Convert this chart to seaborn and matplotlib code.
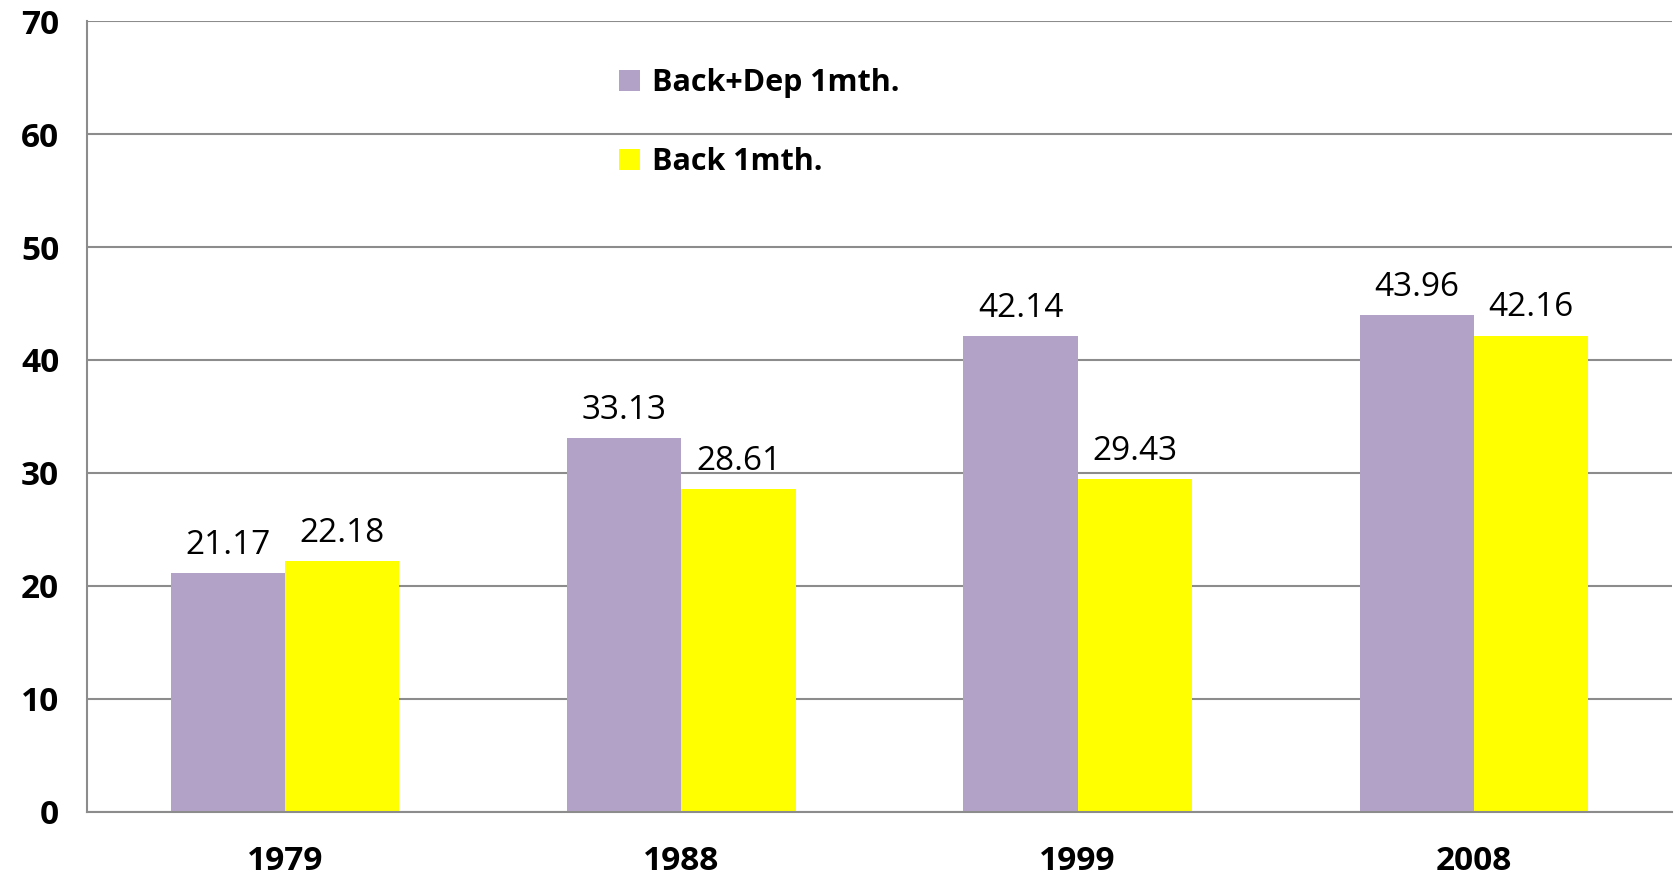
import pandas as pd
import matplotlib.pyplot as plt
import seaborn as sns

years = ["1979", "1988", "1999", "2008"]
back_dep = [21.17, 33.13, 42.14, 43.96]
back = [22.18, 28.61, 29.43, 42.16]
series = ["Back+Dep 1mth.", "Back 1mth."]
colors = ["#B3A2C7", "#FFFF00"]

df = pd.DataFrame({
    "year": years * 2,
    "value": back_dep + back,
    "series": [series[0]] * 4 + [series[1]] * 4,
})

sns.set_style("white")
plt.rcParams["font.family"] = ["Open Sans", "DejaVu Sans"]
plt.rcParams["text.color"] = "black"
plt.rcParams["xtick.labelcolor"] = "black"
plt.rcParams["ytick.labelcolor"] = "black"

fig = plt.figure(figsize=(16.81, 8.76), dpi=100)
ax = fig.add_axes([0.0518, 0.0731, 0.9428, 0.9029])

sns.barplot(data=df, x="year", y="value", hue="series", palette=colors,
            width=0.576, saturation=1, linewidth=0, ax=ax, legend=True)

for cont in ax.containers:
    ax.bar_label(cont, fmt="%.2f", padding=8, fontsize=24, color="black")

ax.set_ylim(0, 70)
ax.set_xlim(-0.5, 3.5)
ax.set_yticks(range(0, 71, 10))
ax.yaxis.grid(True, color="#8c8c8c", linewidth=1.5)
ax.set_axisbelow(True)
ax.set_xlabel("")
ax.set_ylabel("")

for s in ["top", "right"]:
    ax.spines[s].set_visible(False)
for s in ["left", "bottom"]:
    ax.spines[s].set_color("#8c8c8c")
    ax.spines[s].set_linewidth(1.5)

ax.tick_params(axis="y", length=8, width=1.5, color="#8c8c8c", pad=12,
               labelsize=24, labelcolor="black")
ax.tick_params(axis="x", which="major", length=0, pad=24, labelsize=24,
               labelcolor="black")
ax.set_xticks([-0.5, 0.5, 1.5, 2.5, 3.5], minor=True)
ax.tick_params(axis="x", which="minor", length=8, width=1.5, color="#8c8c8c")
for lbl in ax.get_xticklabels() + ax.get_yticklabels():
    lbl.set_fontweight("bold")

leg = ax.legend(loc="upper left", bbox_to_anchor=(0.318, 0.975), frameon=False,
                prop={"weight": "bold", "size": 22}, handlelength=0.7,
                handleheight=0.7, labelspacing=1.6, handletextpad=0.4)
for t in leg.get_texts():
    t.set_color("black")

fig.savefig("out.png", dpi=100)
